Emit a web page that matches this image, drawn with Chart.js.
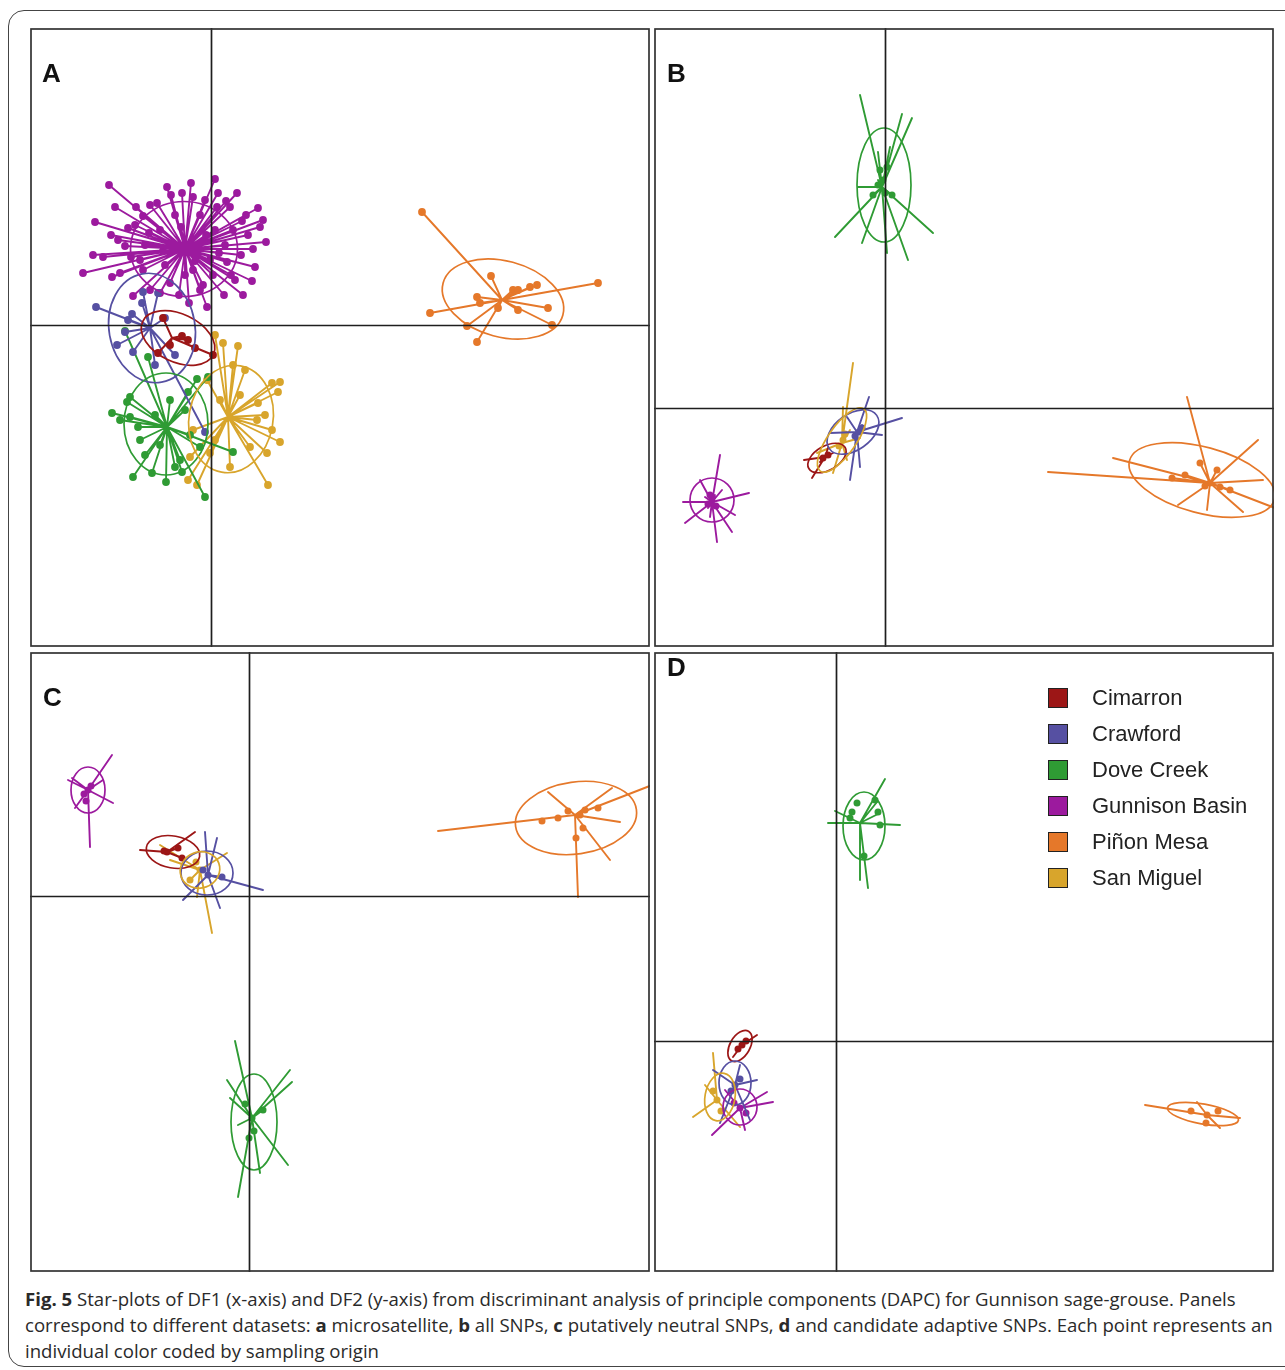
<!DOCTYPE html>
<html>
<head>
<meta charset="utf-8">
<script src="https://cdn.jsdelivr.net/npm/chart.js@4.4.1/dist/chart.umd.min.js"></script>
<style>
    body { margin: 0; background: #fff; width: 1285px; height: 1370px; position: relative; overflow: hidden; }
    .frame { position: absolute; left: 8px; top: 10px; width: 1300px; height: 1355px; border: 1.5px solid #444; border-radius: 16px; }
    canvas { position: absolute; }
    .tag { position: absolute; font-family: Arial, "Liberation Sans", sans-serif; font-weight: bold; font-size: 26px; color: #111; }
    .legend { position: absolute; left: 1048px; top: 680px; font-family: Arial, "Liberation Sans", sans-serif; font-size: 22px; color: #222; }
    .legend-row { height: 36px; display: flex; align-items: center; }
    .legend-box { width: 18px; height: 18px; border: 1px solid #222; margin-right: 24px; }
    .caption { position: absolute; left: 25px; top: 1286px; width: 1260px; font-family: "Open Sans", sans-serif; font-size: 18.6px; line-height: 26px; color: #2a2a2a; white-space: nowrap; }
</style>
</head>
<body>
<div class="frame"></div>
<canvas id="panelA" width="620" height="619" style="left:30px;top:28px"></canvas>
<canvas id="panelB" width="620" height="619" style="left:654px;top:28px"></canvas>
<canvas id="panelC" width="620" height="620" style="left:30px;top:652px"></canvas>
<canvas id="panelD" width="620" height="620" style="left:654px;top:652px"></canvas>
<div class="tag" style="left:42px;top:58px">A</div>
<div class="tag" style="left:667px;top:58px">B</div>
<div class="tag" style="left:43px;top:682px">C</div>
<div class="tag" style="left:667px;top:652px">D</div>
<div class="legend" id="legend"></div>
<div class="caption">
<b>Fig. 5</b> Star-plots of DF1 (x-axis) and DF2 (y-axis) from discriminant analysis of principle components (DAPC) for Gunnison sage-grouse. Panels<br>
correspond to different datasets: <b>a</b> microsatellite, <b>b</b> all SNPs, <b>c</b> putatively neutral SNPs, <b>d</b> and candidate adaptive SNPs. Each point represents an<br>
individual color coded by sampling origin
</div>
<script>
// sampling origins, in legend order
const groups = ['Cimarron', 'Crawford', 'Dove Creek', 'Gunnison Basin', 'Piñon Mesa', 'San Miguel'];
const colours = ['#9c1616', '#5650a2', '#2f9b34', '#9c1a9e', '#e5782a', '#d8a52c'];

// ---- panel A: microsatellite (DF1, DF2 per individual)
const aCimarron = [[-4.8,0.7],[-2.9,-1.1],[-2.3,-1.5],[-5.3,-2.8],[0.2,-3.0],[-4.1,-2.0],[-1.6,-2.3]];
const aCrawford = [[-11.5,1.8],[-7.9,1.1],[-9.4,-2.0],[-8.6,-0.7],[-6.8,3.3],[-5.3,3.2],[-6.9,2.2],[-0.6,-10.7],
    [-7.8,-2.7],[-4.6,0.7],[-3.6,-3.0],[-5.6,-4.0],[-8.3,0.5]];
const aDoveCreek = [[-9.9,-8.8],[-8.1,-7.2],[-7.8,-15.2],[-5.9,-14.8],[-4.5,-15.7],[-0.6,-17.2],[-1.4,-5.4],[-0.3,-5.2],
    [-3.1,-13.5],[-7.3,-10.2],[-4.1,-7.5],[-6.3,-3.2],[-8.6,-0.6],[-1.1,-12.2],[2.2,-12.7],[-3.6,-14.2],[-2.9,-14.7],
    [-8.4,-7.7],[-7.1,-11.5],[-8.1,-9.2],[-5.6,-9.0],[-2.6,-8.5],[-2.1,-11.0],[-5.1,-12.0],[-6.6,-13.0],[-9.1,-9.5],[-2.3,-6.7]];
const aGunnison = [[-10.2,14.0],[-4.4,13.8],[0.4,14.6],[2.6,13.2],[4.7,11.7],[-11.6,10.3],[-10.8,6.8],[-12.8,5.2],
    [-9.9,4.8],[4.2,7.6],[4.4,5.8],[4.1,4.4],[3.2,3.0],[1.3,3.0],[-7.8,2.9],[-0.4,1.8],[-2.9,13.2],[-1.8,12.8],
    [-0.6,12.5],[0.7,13.2],[-5.4,12.2],[-8.3,9.7],[-6.8,10.9],[3.1,10.4],[2.2,9.5],[-9.1,5.2],[-4.1,4.2],[-1.8,5.5],
    [0.2,5.0],[1.6,6.3],[-6.1,3.5],[-5.1,3.2],[-8.6,7.9],[-7.1,6.5],[-5.1,9.5],[-3.6,11.0],[-1.1,11.0],[0.4,9.5],
    [1.4,8.0],[-0.1,6.5],[-2.6,5.0],[-4.6,6.0],[-6.6,8.0],[1.9,11.8],[-6.1,12.0],[-1.1,3.5],[2.4,4.5],[-9.3,8.5],
    [3.7,9.0],[-7.6,10.0],[-4.0,13.0],[-2.0,14.2],[1.5,12.4],[3.5,11.0],[4.9,9.8],[5.5,8.3],[3.0,7.0],[2.0,5.0],
    [-0.8,4.0],[-3.2,3.0],[-6.8,5.5],[-8.0,6.8],[-10.0,9.0],[-7.5,11.8],[-3.0,9.8],[-0.5,9.0],[0.8,7.2],[-4.8,7.4],
    [-6.2,9.2],[-1.6,6.4],[-9.6,11.8],[5.2,10.5],[-11.8,7.0],[-2.2,2.2],[0.6,11.8]];
const aPinonMesa = [[21.1,11.3],[28.0,4.9],[38.7,4.2],[21.9,1.2],[26.6,2.8],[26.9,2.2],[30.2,3.5],[30.7,3.5],
    [31.9,3.8],[32.6,4.0],[33.7,1.7],[30.7,1.5],[28.7,1.7],[25.6,-0.1],[34.1,0.0],[26.6,-1.7]];
const aSanMiguel = [[0.4,-1.0],[1.2,-1.8],[2.7,-2.1],[6.1,-5.8],[6.9,-5.7],[6.7,-6.7],[6.9,-11.7],[6.1,-10.5],
    [5.6,-12.8],[5.7,-16.0],[-2.3,-15.5],[-1.4,-16.0],[-2.1,-13.2],[-1.8,-10.5],[-0.4,-5.5],[2.2,-4.0],[3.4,-4.5],
    [4.7,-7.8],[4.6,-9.5],[3.9,-12.2],[1.9,-14.2],[-0.1,-12.8],[2.9,-7.0],[0.9,-7.5],[5.4,-9.0],[0.4,-11.5]];
const aCentres = [[-3.9,-1.3],[-6.1,-0.3],[-4.4,-10.2],[-2.6,7.6],[29.1,2.5],[1.7,-9.2]];
// ellipse: centre x, centre y, x radius, y radius, angle (deg)
const aEllipses = [[-3.3,-1.3,3.9,2.4,-25],[-5.9,-0.3,4.3,5.5,10],[-4.5,-9.9,4.2,5.1,0],
    [-2.7,7.6,5.35,4.75,0],[29.2,2.6,6.2,3.8,-15],[2.0,-9.4,4.2,5.4,-10]];

// ---- panel B: all SNPs
const bCimarronEnds = [[-8.1,-5.2],[-7.3,-7.0],[-5.2,-4.5],[-5.7,-4.0],[-6.5,-5.4]];
const bCimarronDots = [[-6.2,-5.0],[-5.7,-4.7]];
const bCrawfordEnds = [[-1.6,1.1],[1.7,-1.0],[-3.5,-7.2],[-2.5,-5.9],[-0.3,-2.7],[-5.5,-2.5],[-3.8,-0.9],[-2.3,-1.7],[-3.0,-3.2]];
const bCrawfordDots = [[-2.3,-2.0],[-3.0,-2.8],[-2.6,-2.4]];
const bDoveCreekEnds = [[-2.5,31.3],[1.7,29.4],[2.7,29.0],[-5.0,17.1],[-2.3,16.5],[4.8,17.5],[2.3,14.8],[0.2,15.5],
    [-0.7,25.6],[0.5,26.1],[-2.7,22.1],[-1.2,21.3],[0.7,21.3],[-0.5,23.8],[0.2,24.1],[0.0,21.5],[-0.7,22.8]];
const bDoveCreekDots = [[-0.5,23.8],[0.2,24.1],[-0.7,22.3],[-1.2,21.3],[0.7,21.3],[0.0,21.5],[-0.2,22.8]];
const bGunnisonEnds = [[-16.5,-4.7],[-13.6,-8.5],[-20.2,-9.4],[-20.0,-11.5],[-16.8,-13.4],[-15.3,-12.4],[-15.0,-10.7],
    [-18.5,-7.2],[-16.3,-8.2],[-17.5,-10.9],[-18.0,-8.9],[-17.0,-8.7],[-17.7,-10.0]];
const bGunnisonDots = [[-17.3,-9.0],[-17.7,-9.6],[-16.9,-9.8],[-17.5,-8.7]];
const bPinonMesaEnds = [[16.3,-6.4],[30.2,1.1],[37.3,-3.2],[22.8,-5.0],[29.3,-9.7],[32.2,-10.2],[35.8,-10.4],[39.0,-10.0],
    [37.8,-7.2],[33.2,-6.2],[31.5,-5.5],[30.0,-6.7],[28.7,-7.0],[33.5,-7.9],[34.5,-8.2]];
const bPinonMesaDots = [[31.5,-5.5],[30.0,-6.7],[28.7,-7.0],[33.2,-6.2],[32.5,-7.5],[33.5,-7.9],[34.5,-8.2],[32.0,-7.8]];
const bSanMiguelEnds = [[-3.2,4.5],[-6.8,-4.5],[-5.2,-6.5],[-3.8,-5.2],[-2.5,-3.0],[-4.2,0.1],[-3.5,-2.2],[-4.7,-4.0]];
const bSanMiguelDots = [[-4.2,-3.2],[-4.6,-3.8],[-4.0,-2.6]];
const bCentres = [[-6.0,-4.9],[-2.8,-2.4],[-0.3,22.1],[-17.3,-9.4],[32.5,-7.5],[-4.3,-3.5]];
const bEllipses = [[-5.8,-5.0,2.1,1.2,30],[-3.2,-2.4,2.9,1.8,35],[-0.1,22.3,2.7,5.7,0],
    [-17.3,-9.2,2.2,2.2,0],[31.7,-7.2,7.5,3.3,-15],[-4.3,-3.2,3.8,1.4,55]];

// ---- panel C: putatively neutral SNPs
const cCimarronEnds = [[-10.9,4.6],[-5.4,6.4],[-7.1,4.8],[-6.7,3.8]];
const cCimarronDots = [[-8.2,4.4],[-8.5,4.5],[-7.1,4.8],[-6.7,3.8]];
const cCrawfordEnds = [[1.4,0.6],[-4.4,6.4],[-3.2,5.8],[-2.9,-1.2],[-6.6,-0.4],[-2.7,1.9]];
const cCrawfordDots = [[-4.1,2.1],[-2.7,1.9],[-4.6,2.6]];
const cDoveCreekEnds = [[-1.4,-14.5],[4.1,-17.4],[4.3,-18.6],[-2.2,-18.4],[-1.9,-20.2],[3.9,-26.9],[-1.1,-30.1],
    [1.1,-27.7],[1.4,-21.4],[-1.1,-22.9]];
const cDoveCreekDots = [[0.3,-22.2],[1.4,-21.4],[-0.4,-20.8],[0.5,-23.5],[0.0,-24.2]];
const cGunnisonEnds = [[-13.7,14.1],[-15.9,4.9],[-18.1,11.6],[-13.6,9.3],[-14.6,11.6],[-17.4,8.8],[-17.7,11.8]];
const cGunnisonDots = [[-16.1,10.6],[-16.5,10.2],[-15.8,11.0],[-16.3,9.5]];
const cPinonMesaEnds = [[18.9,6.5],[41.1,11.4],[32.9,-0.1],[36.1,3.6],[29.9,10.4],[36.3,10.8],[37.1,7.4]];
const cPinonMesaDots = [[29.3,7.5],[30.9,7.8],[32.7,5.8],[33.4,6.8],[34.9,8.8],[31.9,8.5],[33.6,8.6],[33.1,8.1]];
const cSanMiguelEnds = [[-3.7,-3.7],[-7.9,3.6],[-2.2,4.3],[-5.9,1.6],[-5.2,-0.1],[-8.9,5.1]];
const cSanMiguelDots = [[-4.9,2.6],[-5.9,1.6],[-5.3,3.4]];
const cCentres = [[-8.2,4.4],[-4.1,2.1],[0.3,-22.2],[-16.1,10.6],[32.6,8.1],[-4.9,2.6]];
const cEllipses = [[-7.6,4.4,2.7,1.6,-10],[-4.2,2.3,2.6,2.2,0],[0.5,-22.6,2.3,4.8,0],
    [-16.1,10.6,1.7,2.3,0],[32.7,7.8,6.1,3.6,8],[-4.9,2.6,2.0,1.8,20]];

// ---- panel D: candidate adaptive SNPs
const dCimarronEnds = [[-7.9,0.6],[-10.3,-1.6],[-9.1,0.1]];
const dCimarronDots = [[-9.4,-0.4],[-9.8,-0.8],[-9.0,0.0]];
const dCrawfordEnds = [[-12.3,-2.9],[-7.9,-3.9],[-8.6,-7.9],[-11.6,-8.2],[-9.6,-2.4]];
const dCrawfordDots = [[-10.1,-4.4],[-9.6,-3.8],[-10.5,-5.0]];
const dDoveCreekEnds = [[4.9,26.2],[-0.8,21.8],[6.4,21.6],[-0.1,23.0],[3.2,15.3],[2.4,16.1],[4.1,23.9],[4.4,22.8]];
const dDoveCreekDots = [[1.6,22.9],[2.1,23.8],[3.9,24.1],[4.2,22.9],[4.4,21.6],[2.8,18.5],[1.4,22.3]];
const dGunnisonEnds = [[-6.3,-6.1],[-12.4,-9.4],[-9.1,-8.9],[-6.9,-5.1],[-11.1,-4.9]];
const dGunnisonDots = [[-9.6,-6.7],[-9.0,-7.2],[-10.2,-6.2]];
const dPinonMesaEnds = [[30.9,-6.4],[40.4,-7.7],[38.4,-8.7],[36.1,-6.1]];
const dPinonMesaDots = [[37.1,-7.4],[38.2,-7.0],[35.5,-7.0],[37.0,-8.2]];
const dSanMiguelEnds = [[-14.3,-7.6],[-12.3,-1.2],[-9.6,-8.6],[-13.1,-4.4]];
const dSanMiguelDots = [[-11.9,-5.9],[-12.3,-5.0],[-11.5,-7.0]];
const dCentres = [[-9.4,-0.4],[-10.1,-4.4],[2.4,21.8],[-9.6,-6.7],[37.1,-7.4],[-11.9,-5.9]];
const dEllipses = [[-9.6,-0.5,1.7,1.0,60],[-10.1,-4.2,1.6,2.2,0],[2.8,21.5,2.1,3.4,0],
    [-9.6,-6.6,1.7,1.8,0],[36.7,-7.3,3.6,1.0,-10],[-11.6,-5.6,1.5,2.4,-10]];

// star: centre -> each individual, drawn as one back-and-forth line
function starPath(centre, pts) {
    const out = [];
    pts.forEach(p => { out.push(centre, p); });
    out.push(centre);
    return out;
}

function makePanel(id, xRange, yRange, centres, ellipses, ends, dots, dotSize) {
    const datasets = [];
    groups.forEach((g, i) => {
        datasets.push({
            data: starPath(centres[i], ends[i]),
            showLine: true,
            borderColor: colours[i],
            borderWidth: 1.9,
            borderJoinStyle: 'round',
            pointRadius: 0,
            pointHoverRadius: 0
        });
        datasets.push({
            data: dots[i],
            showLine: false,
            pointRadius: dotSize,
            pointBackgroundColor: colours[i],
            pointBorderWidth: 0
        });
    });

    const panelPlugin = {
        id: 'panel' + id,
        afterDatasetsDraw(chart) {
            const { ctx, chartArea: a, scales: { x, y } } = chart;
            ctx.save();
            ctx.beginPath();
            ctx.rect(a.left, a.top, a.right - a.left, a.bottom - a.top);
            ctx.clip();
            ellipses.forEach((e, i) => {
                const cx = x.getPixelForValue(e[0]);
                const cy = y.getPixelForValue(e[1]);
                const rx = x.getPixelForValue(e[0] + e[2]) - cx;
                const ry = cy - y.getPixelForValue(e[1] + e[3]);
                ctx.beginPath();
                ctx.ellipse(cx, cy, rx, ry, -e[4] * Math.PI / 180, 0, Math.PI * 2);
                ctx.strokeStyle = colours[i];
                ctx.lineWidth = 1.7;
                ctx.stroke();
            });
            // axes through the origin
            const x0 = Math.round(x.getPixelForValue(0)) + 0.5;
            const y0 = Math.round(y.getPixelForValue(0)) + 0.5;
            ctx.strokeStyle = '#1e1e1e';
            ctx.lineWidth = 1.7;
            ctx.beginPath();
            ctx.moveTo(x0, a.top); ctx.lineTo(x0, a.bottom);
            ctx.moveTo(a.left, y0); ctx.lineTo(a.right, y0);
            ctx.stroke();
            ctx.restore();
        },
        afterDraw(chart) {
            const { ctx, width, height } = chart;
            ctx.save();
            ctx.strokeStyle = '#333';
            ctx.lineWidth = 1.7;
            ctx.strokeRect(1, 1, width - 2, height - 2);
            ctx.restore();
        }
    };

    return new Chart(document.getElementById(id), {
        type: 'scatter',
        data: { datasets },
        options: {
            responsive: false,
            animation: false,
            layout: { padding: 0, autoPadding: false },
            scales: {
                x: { type: 'linear', min: xRange[0], max: xRange[1], display: false },
                y: { type: 'linear', min: yRange[0], max: yRange[1], display: false }
            },
            plugins: { legend: { display: false }, tooltip: { enabled: false } }
        },
        plugins: [panelPlugin]
    });
}

const aStars = [aCimarron, aCrawford, aDoveCreek, aGunnison, aPinonMesa, aSanMiguel];
makePanel('panelA', [-18.1, 43.9], [-32.2, 29.7], aCentres, aEllipses, aStars, aStars, 3.9);
makePanel('panelB', [-23.1, 38.9], [-23.9, 38.0], bCentres, bEllipses,
    [bCimarronEnds, bCrawfordEnds, bDoveCreekEnds, bGunnisonEnds, bPinonMesaEnds, bSanMiguelEnds],
    [bCimarronDots, bCrawfordDots, bDoveCreekDots, bGunnisonDots, bPinonMesaDots, bSanMiguelDots], 3.5);
makePanel('panelC', [-21.9, 40.1], [-37.6, 24.4], cCentres, cEllipses,
    [cCimarronEnds, cCrawfordEnds, cDoveCreekEnds, cGunnisonEnds, cPinonMesaEnds, cSanMiguelEnds],
    [cCimarronDots, cCrawfordDots, cDoveCreekDots, cGunnisonDots, cPinonMesaDots, cSanMiguelDots], 3.5);
makePanel('panelD', [-18.2, 43.8], [-23.1, 38.9], dCentres, dEllipses,
    [dCimarronEnds, dCrawfordEnds, dDoveCreekEnds, dGunnisonEnds, dPinonMesaEnds, dSanMiguelEnds],
    [dCimarronDots, dCrawfordDots, dDoveCreekDots, dGunnisonDots, dPinonMesaDots, dSanMiguelDots], 3.5);

// legend in panel D
const legend = document.getElementById('legend');
groups.forEach((g, i) => {
    const row = document.createElement('div');
    row.className = 'legend-row';
    const box = document.createElement('div');
    box.className = 'legend-box';
    box.style.background = colours[i];
    const label = document.createElement('span');
    label.textContent = g;
    row.appendChild(box);
    row.appendChild(label);
    legend.appendChild(row);
});
</script>
</body>
</html>
